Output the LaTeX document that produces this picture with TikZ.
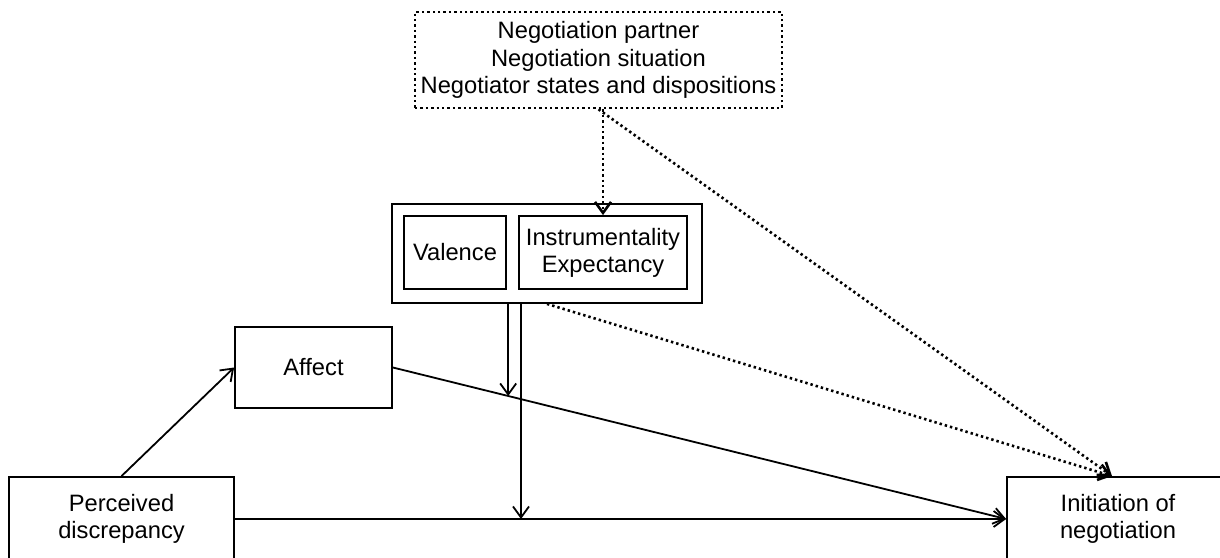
\documentclass[tikz,border=0pt]{standalone}
\usepackage{fontspec}
\setmainfont{Liberation Sans}
\usetikzlibrary{arrows.meta,calc}
\begin{document}
\begin{tikzpicture}[x=0.5pt,y=-0.5pt,
    box/.style={draw,line width=0.9pt,align=center,inner sep=0pt,
      font=\fontsize{11.85}{13.6}\selectfont},
    dotbox/.style={box,line width=1.3pt,dash pattern=on 1.2pt off 1.5pt},
    arr/.style={line width=0.9pt,-{Straight Barb[length=5.5pt,width=8pt]}},
    dotarr/.style={arr,line width=1.3pt,dash pattern=on 1.2pt off 1.5pt}]
    % Picture frame (boxes at the edges are cut off)
    \clip (0,0) rectangle (1220,557);
    % Moderators on top
    \node[dotbox,minimum width=183.5pt,minimum height=48pt] (factors) at (598.5,60)
        {Negotiation partner\\Negotiation situation\\Negotiator states and dispositions};
    % Expectancy block
    \node[box,minimum width=155pt,minimum height=49.5pt] (expect) at (547,253.5) {};
    \node[box,minimum width=51pt,minimum height=36.5pt] (valence) at (455,252.5) {Valence};
    \node[box,minimum width=84pt,minimum height=36.5pt] (instr) at (603,252.5)
        {Instrumentality\\Expectancy};
    % Main path
    \node[box,minimum width=78.5pt,minimum height=40.5pt] (affect) at (313.5,367.5) {Affect};
    \node[box,minimum width=112.5pt,minimum height=42pt] (percv) at (121.5,519)
        {Perceived\\discrepancy};
    \node[box,minimum width=111pt,minimum height=42pt] (init) at (1118,519)
        {Initiation of\\negotiation};
    % Points where the moderator arrows meet the paths
    \coordinate (m1) at ($(affect.east)!0.188!(init.west)$);
    \coordinate (m2) at (percv.east -| 521,0);
    \coordinate (tgt) at ($(init.north)+(-6,0)$);
    % Solid arrows
    \draw[arr] (percv.north) -- (affect.west);
    \draw[arr] (affect.east) -- (init.west);
    \draw[arr] (percv.east) -- (init.west);
    \draw[arr] (expect.south -| m1) -- (m1);
    \draw[arr] (expect.south -| m2) -- (m2);
    % Dotted arrows
    \draw[dotarr] (factors.south -| instr.north) -- (instr.north);
    \draw[dotarr] (factors.south) -- (tgt);
    \draw[dotarr] (expect.south) -- (tgt);
\end{tikzpicture}
\end{document}
